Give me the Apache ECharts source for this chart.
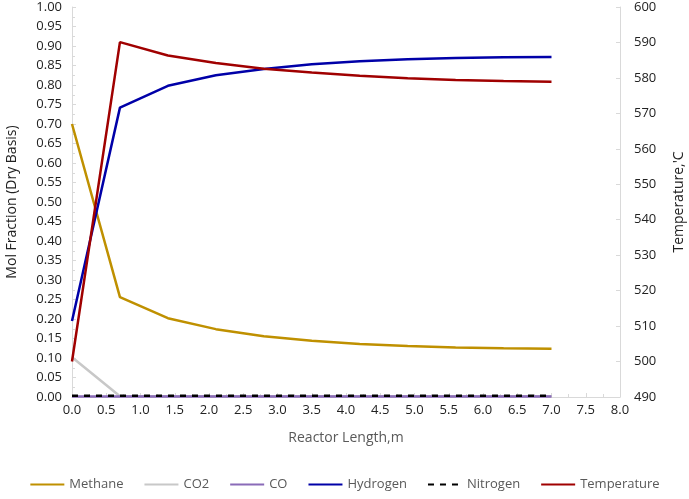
<!DOCTYPE html>
<html>
<head>
<meta charset="utf-8">
<script src="https://cdn.jsdelivr.net/npm/echarts@6/dist/echarts.min.js"></script>
<style>
html, body { margin: 0; padding: 0; background: #fff; }
#charts { width: 689px; height: 499px; }
</style>
</head>
<body>
<div id="charts"></div>
<script>
// reactor length, m
var length = [0, 0.7, 1.4, 2.1, 2.8, 3.5, 4.2, 4.9, 5.6, 6.3, 7.0];
var methane = [0.700, 0.256, 0.202, 0.174, 0.156, 0.144, 0.136, 0.131, 0.127, 0.125, 0.124];
var co2 = [0.102, 0.002, 0.002, 0.002, 0.002, 0.002, 0.002, 0.002, 0.002, 0.002, 0.002];
var co = [0.001, 0.001, 0.001, 0.001, 0.001, 0.001, 0.001, 0.001, 0.001, 0.001, 0.001];
var hydrogen = [0.195, 0.742, 0.798, 0.825, 0.841, 0.853, 0.861, 0.866, 0.869, 0.871, 0.872];
var nitrogen = [0.003, 0.003, 0.003, 0.003, 0.003, 0.003, 0.003, 0.003, 0.003, 0.003, 0.003];
var temperature = [500, 590.1, 586.3, 584.2, 582.6, 581.5, 580.6, 579.9, 579.4, 579.1, 578.9];

var chart;

init();

function init() {
    chart = echarts.init(document.getElementById('charts'));
    chart.setOption(buildOption());
}

function pairs(ys) {
    var out = [];
    for (var i = 0; i < length.length; i++) {
        out.push([length[i], ys[i]]);
    }
    return out;
}

function lineSeries(name, ys, color, axis, dashed) {
    return {
        name: name,
        type: 'line',
        yAxisIndex: axis,
        data: pairs(ys),
        symbol: 'none',
        smooth: false,
        lineStyle: { color: color, width: 2.5, type: dashed ? [6, 6] : 'solid' },
        itemStyle: { color: color }
    };
}

function buildOption() {
    var font = '"Open Sans", sans-serif';
    var axisGray = '#d9d9d9';
    return {
        animation: false,
        textStyle: { fontFamily: font },
        grid: { left: 72, right: 69, top: 7, bottom: 102, containLabel: false, outerBoundsMode: 'none' },
        legend: {
            bottom: 3,
            left: 'center',
            itemWidth: 34,
            itemHeight: 3,
            itemGap: 20,
            itemStyle: { opacity: 0 },
            textStyle: { fontFamily: font, fontSize: 13, color: '#595959' },
            data: ['Methane', 'CO2', 'CO', 'Hydrogen', 'Nitrogen', 'Temperature']
        },
        xAxis: {
            type: 'value',
            min: 0, max: 8, interval: 0.5,
            name: 'Reactor Length,m',
            nameLocation: 'middle',
            nameGap: 34,
            nameTextStyle: { fontSize: 14, color: '#595959', fontFamily: font },
            axisLine: { lineStyle: { color: axisGray } },
            axisTick: { inside: true, length: 4, lineStyle: { color: axisGray } },
            minorTick: { show: true, splitNumber: 2, length: 3, lineStyle: { color: axisGray } },
            axisLabel: { color: '#222', fontSize: 13, margin: 7, formatter: function (v) { return v.toFixed(1); } },
            splitLine: { show: false }
        },
        yAxis: [{
            type: 'value',
            min: 0, max: 1, interval: 0.05,
            name: 'Mol Fraction (Dry Basis)',
            nameLocation: 'middle',
            nameGap: 53,
            nameTextStyle: { fontSize: 14, color: '#222', fontFamily: font },
            axisLine: { show: true, lineStyle: { color: axisGray } },
            axisTick: { show: true, inside: true, length: 4, lineStyle: { color: axisGray } },
            minorTick: { show: true, splitNumber: 2, length: 3, lineStyle: { color: axisGray } },
            axisLabel: { color: '#222', fontSize: 13, margin: 10, formatter: function (v) { return v.toFixed(2); } },
            splitLine: { show: false }
        }, {
            type: 'value',
            min: 490, max: 600, interval: 10,
            name: "Temperature,'C",
            nameLocation: 'middle',
            nameGap: 52,
            nameRotate: 90,
            nameTextStyle: { fontSize: 14, color: '#222', fontFamily: font },
            axisLine: { show: true, lineStyle: { color: axisGray } },
            axisTick: { show: true, inside: true, length: 4, lineStyle: { color: axisGray } },
            axisLabel: { color: '#222', fontSize: 13, margin: 14 },
            splitLine: { show: false }
        }],
        series: [
            lineSeries('Methane', methane, '#bf9000', 0),
            lineSeries('CO2', co2, '#c8c8c8', 0),
            lineSeries('CO', co, '#8a6bb8', 0),
            lineSeries('Hydrogen', hydrogen, '#0000a8', 0),
            lineSeries('Nitrogen', nitrogen, '#000000', 0, true),
            lineSeries('Temperature', temperature, '#a00000', 1)
        ]
    };
}
</script>
</body>
</html>
